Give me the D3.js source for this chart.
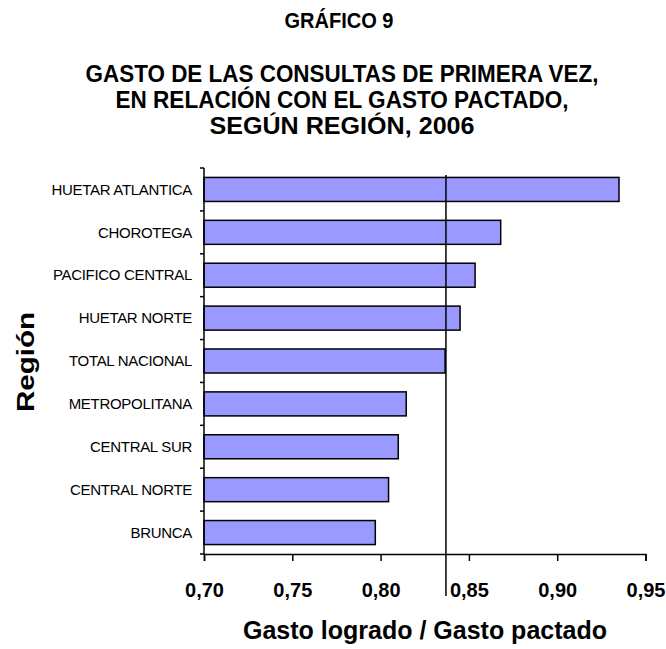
<!DOCTYPE html>
<html>
<head>
<meta charset="utf-8">
<script src="https://cdn.jsdelivr.net/npm/d3@7"></script>
<style>
  body { margin: 0; background: #fff; }
  text { font-family: "Liberation Sans", Arial, sans-serif; }
</style>
</head>
<body>
<div id="chart"></div>
<script>
// data
const regions = ["HUETAR ATLANTICA", "CHOROTEGA", "PACIFICO CENTRAL", "HUETAR NORTE",
  "TOTAL NACIONAL", "METROPOLITANA", "CENTRAL SUR", "CENTRAL NORTE", "BRUNCA"];
const ratios = [0.935, 0.868, 0.8535, 0.845, 0.8365, 0.8145, 0.810, 0.8045, 0.797];
const xTicks = [0.70, 0.75, 0.80, 0.85, 0.90, 0.95];
const refValue = 0.837;

const titleLines = ["GASTO DE LAS CONSULTAS DE PRIMERA VEZ,", "EN RELACIÓN CON EL GASTO PACTADO,", "SEGÚN REGIÓN, 2006"];
const titleWidths = [513, 453, 265];

const W = 666, H = 649;
const margin = { top: 168, left: 204 };
const width = 645.5 - margin.left;
const height = 554 - margin.top;

const svg = d3.select("#chart").append("svg")
  .attr("width", W).attr("height", H);

svg.append("text")
  .attr("x", 339).attr("y", 28)
  .attr("text-anchor", "middle")
  .attr("textLength", 109).attr("lengthAdjust", "spacingAndGlyphs")
  .style("font-size", "22px").style("font-weight", "bold")
  .text("GRÁFICO 9");

svg.selectAll(".title")
  .data(titleLines)
  .enter().append("text")
  .attr("class", "title")
  .attr("x", 342)
  .attr("y", (d, i) => 82 + i * 26)
  .attr("text-anchor", "middle")
  .attr("textLength", (d, i) => titleWidths[i])
  .attr("lengthAdjust", "spacingAndGlyphs")
  .style("font-size", "23px").style("font-weight", "bold")
  .text(d => d);

const g = svg.append("g")
  .attr("transform", `translate(${margin.left},${margin.top})`);

const x = d3.scaleLinear().domain([0.70, 0.95]).range([0, width]);
const y = d3.scaleBand().domain(regions).range([0, height]).paddingInner(0.44).paddingOuter(0.22);

// bars
g.selectAll("rect")
  .data(regions)
  .enter().append("rect")
  .attr("x", x(0.70))
  .attr("y", d => y(d))
  .attr("width", (d, i) => x(ratios[i]) - x(0.70))
  .attr("height", y.bandwidth())
  .attr("fill", "#9999ff")
  .attr("stroke", "#000")
  .attr("stroke-width", 1.5);

// reference line
g.append("line")
  .attr("x1", x(refValue)).attr("x2", x(refValue))
  .attr("y1", 7).attr("y2", height + 42)
  .attr("stroke", "#000").attr("stroke-width", 1.5);

// y axis with category boundary ticks
const yAxis = g.append("g");
yAxis.append("line")
  .attr("x1", 0).attr("x2", 0).attr("y1", 0).attr("y2", height)
  .attr("stroke", "#000").attr("stroke-width", 1.5);
const step = height / regions.length;
yAxis.selectAll(".yt")
  .data(d3.range(regions.length + 1))
  .enter().append("line")
  .attr("x1", -4).attr("x2", 0)
  .attr("y1", d => d * step).attr("y2", d => d * step)
  .attr("stroke", "#000").attr("stroke-width", 1.5);
yAxis.selectAll(".ylab")
  .data(regions)
  .enter().append("text")
  .attr("x", -12)
  .attr("y", d => y(d) + y.bandwidth() / 2)
  .attr("dy", "0.35em")
  .attr("text-anchor", "end")
  .style("font-size", "15px")
  .style("letter-spacing", "-0.3px")
  .text(d => d);

// x axis
const xAxis = g.append("g")
  .attr("transform", `translate(0,${height})`)
  .call(d3.axisBottom(x).tickValues(xTicks).tickSize(7)
    .tickFormat(d => d3.format(".2f")(d).replace(".", ",")));
xAxis.select(".domain").attr("stroke-width", 1.5);
xAxis.selectAll(".tick line").attr("stroke-width", 1.5);
xAxis.selectAll("text")
  .attr("y", 43).attr("dy", null)
  .style("font-size", "20px").style("font-weight", "bold")
  .style("font-family", "'Liberation Sans', Arial, sans-serif");

// axis titles
svg.append("text")
  .attr("x", 425).attr("y", 639)
  .attr("text-anchor", "middle")
  .style("font-size", "25px").style("font-weight", "bold")
  .text("Gasto logrado / Gasto pactado");

svg.append("text")
  .attr("transform", "translate(34,362) rotate(-90)")
  .attr("text-anchor", "middle")
  .attr("textLength", 100).attr("lengthAdjust", "spacingAndGlyphs")
  .style("font-size", "23px").style("font-weight", "bold")
  .text("Región");
</script>
</body>
</html>
